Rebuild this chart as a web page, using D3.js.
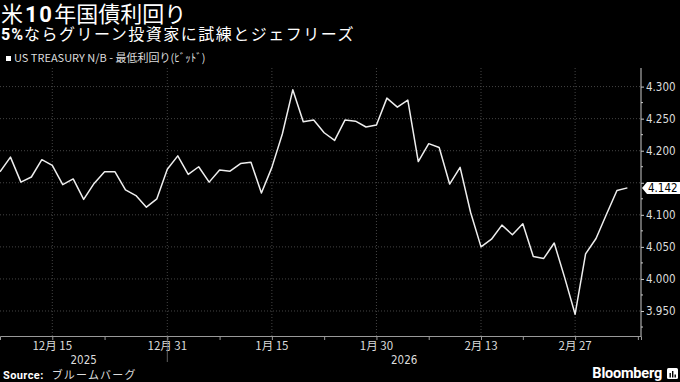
<!DOCTYPE html>
<html>
<head>
<meta charset="utf-8">
<script src="https://cdn.jsdelivr.net/npm/d3@7"></script>
<style>
  html, body { margin: 0; padding: 0; background: #000; }
  svg { display: block; }
  .jp { font-family: "Noto Sans CJK JP", "Noto Sans", sans-serif; }
  .num { font-family: "DejaVu Sans Condensed", "Roboto", sans-serif; }
</style>
</head>
<body>
<svg id="chart" width="680" height="382"></svg>
<script>
// trading days, Dec 8 2025 .. Mar 6 2026 (US bond market holidays skipped)
var dates = [
  '2025-12-08','2025-12-09','2025-12-10','2025-12-11','2025-12-12',
  '2025-12-15','2025-12-16','2025-12-17','2025-12-18','2025-12-19',
  '2025-12-22','2025-12-23','2025-12-24','2025-12-26','2025-12-29',
  '2025-12-30','2025-12-31','2026-01-02','2026-01-05','2026-01-06',
  '2026-01-07','2026-01-08','2026-01-09','2026-01-12','2026-01-13',
  '2026-01-14','2026-01-15','2026-01-16','2026-01-20','2026-01-21',
  '2026-01-22','2026-01-23','2026-01-26','2026-01-27','2026-01-28',
  '2026-01-29','2026-01-30','2026-02-02','2026-02-03','2026-02-04',
  '2026-02-05','2026-02-06','2026-02-09','2026-02-10','2026-02-11',
  '2026-02-12','2026-02-13','2026-02-17','2026-02-18','2026-02-19',
  '2026-02-20','2026-02-23','2026-02-24','2026-02-25','2026-02-26',
  '2026-02-27','2026-03-02','2026-03-03','2026-03-04','2026-03-05',
  '2026-03-06'
];

var yields = [
  4.167, 4.190, 4.151, 4.159, 4.186,
  4.177, 4.147, 4.156, 4.124, 4.149,
  4.167, 4.167, 4.139, 4.130, 4.112,
  4.125, 4.171, 4.192, 4.163, 4.175,
  4.151, 4.170, 4.168, 4.180, 4.182,
  4.134, 4.174, 4.226, 4.295, 4.245,
  4.248, 4.228, 4.216, 4.248, 4.246,
  4.237, 4.240, 4.282, 4.268, 4.279,
  4.183, 4.211, 4.205, 4.148, 4.174,
  4.104, 4.050, 4.062, 4.084, 4.069,
  4.086, 4.035, 4.032, 4.056, 4.002,
  3.945, 4.039, 4.063, 4.101, 4.138,
  4.142
];

var labelTickDates = ['2025-12-15','2025-12-31','2026-01-15','2026-01-30','2026-02-13','2026-02-27'];
var minorTickDates = ['2025-12-22','2026-01-08','2026-01-23','2026-02-06','2026-02-20'];
var yTicks = [3.95, 4.00, 4.05, 4.10, 4.15, 4.20, 4.25, 4.30];
var years = ['2025', '2026'];

var titleText = '米10年国債利回り';
var subtitleBold = '5%';
var subtitleText = 'ならグリーン投資家に試練とジェフリーズ';
var legendText = 'US TREASURY N/B - 最低利回り(ﾋﾞｯﾄﾞ)';

var svg = d3.select('#chart');
var plotLeft = 0, plotRight = 641, plotTop = 68, plotBottom = 336;

// index based scale, one step per trading day
var x = d3.scaleLinear().domain([0, 61.3]).range([plotLeft, plotRight]);
var y = d3.scaleLinear().domain([3.911, 4.329]).range([plotBottom, plotTop]);

var idx = function(d) { return dates.indexOf(d); };

// title block
var t = svg.append('text').attr('class', 'jp').attr('x', 1).attr('y', 22)
  .attr('fill', '#fff').style('font-size', '22px');
t.append('tspan').text(titleText.slice(0, 1));
t.append('tspan').attr('dx', 2).style('font-weight', 'bold').style('font-family', 'Roboto, sans-serif')
  .style('letter-spacing', '1.5px').text(titleText.slice(1, 3));
t.append('tspan').attr('dx', 1).text(titleText.slice(3));

var st = svg.append('text').attr('class', 'jp').attr('x', 1).attr('y', 40)
  .attr('fill', '#fff').style('font-size', '16px');
st.append('tspan').style('font-weight', 'bold').style('font-family', 'Roboto, sans-serif')
  .style('letter-spacing', '1px').text(subtitleBold);
st.append('tspan').style('letter-spacing', '1.5px').text(subtitleText);

svg.append('rect').attr('x', 6).attr('y', 56).attr('width', 5).attr('height', 5).attr('fill', '#fff');
svg.append('text').attr('class', 'jp').attr('x', 14).attr('y', 62)
  .attr('fill', '#ddd').style('font-size', '11px').text(legendText);

// gridlines
var g = svg.append('g');
g.selectAll('.hgrid').data(yTicks).enter().append('line')
  .attr('x1', plotLeft).attr('x2', plotRight)
  .attr('y1', d => y(d)).attr('y2', d => y(d))
  .attr('stroke', '#555').attr('stroke-width', 0.8).attr('stroke-dasharray', '1,2');

g.selectAll('.vgrid').data(labelTickDates).enter().append('line')
  .attr('x1', d => x(idx(d))).attr('x2', d => x(idx(d)))
  .attr('y1', plotTop).attr('y2', plotBottom)
  .attr('stroke', '#555').attr('stroke-width', 0.8).attr('stroke-dasharray', '1,2');

// bottom axis
var xAxis = d3.axisBottom(x)
  .tickValues(labelTickDates.map(idx).concat(minorTickDates.map(idx), [61]))
  .tickSize(4)
  .tickFormat('');
var xa = svg.append('g').attr('transform', `translate(0,${plotBottom})`).call(xAxis);
xa.select('.domain').attr('stroke', '#999');
xa.selectAll('.tick line').attr('stroke', '#999');

svg.append('g').selectAll('text').data(labelTickDates).enter().append('text')
  .attr('class', 'jp')
  .attr('x', d => x(idx(d)))
  .attr('y', 350)
  .attr('text-anchor', 'middle')
  .attr('fill', '#ddd')
  .style('font-size', '11.5px')
  .text(d => {
    let p = d.split('-');
    return (+p[1]) + '月 ' + (+p[2]);
  });

// year row with separator at year boundary
var yearX = x(idx('2025-12-31'));
svg.append('line').attr('x1', yearX).attr('x2', yearX)
  .attr('y1', plotBottom).attr('y2', 362).attr('stroke', '#777').attr('stroke-width', 0.8);
svg.selectAll('.yr').data(years).enter().append('text')
  .attr('class', 'num')
  .attr('x', (d, i) => i == 0 ? (plotLeft + yearX) / 2 : (yearX + plotRight) / 2)
  .attr('y', 363.5)
  .attr('text-anchor', 'middle')
  .attr('fill', '#ddd')
  .style('font-size', '11.5px')
  .text(d => d);

// right axis
var yAxis = d3.axisRight(y).tickValues(yTicks).tickSize(3).tickFormat(d3.format('.3f'));
var ya = svg.append('g').attr('transform', `translate(${plotRight},0)`).call(yAxis);
ya.select('.domain').attr('stroke', '#ccc').attr('d', `M0,${plotTop}V${plotBottom}`);
ya.selectAll('.tick line').attr('stroke', '#ccc');
ya.selectAll('.tick text').attr('class', 'num').attr('fill', '#ddd')
  .style('font-size', '11.5px').attr('x', 5);
ya.selectAll('.tick').filter(d => d == 4.15).select('text').remove();

ya.append('g').selectAll('line').data(yTicks.map(d => d - 0.025)).enter().append('line')
  .attr('x1', 0).attr('x2', 2).attr('y1', d => y(d)).attr('y2', d => y(d)).attr('stroke', '#ccc');

// the series
var line = d3.line().x((d, i) => x(i)).y(d => y(d));
svg.append('path').datum(yields)
  .attr('d', line)
  .attr('fill', 'none')
  .attr('stroke', '#eee')
  .attr('stroke-width', 1.5)
  .attr('stroke-linejoin', 'round');

// last value tag
var last = yields[yields.length - 1];
var ly = y(last);
svg.append('path')
  .attr('d', `M${plotRight + 1},${ly} L${plotRight + 6},${ly - 6} H680 V${ly + 6} H${plotRight + 6} Z`)
  .attr('fill', '#fff');
svg.append('text').attr('class', 'num').attr('x', plotRight + 7).attr('y', ly + 4)
  .attr('fill', '#000').style('font-size', '11.5px').text(d3.format('.3f')(last));

// footer
var src = svg.append('text').attr('x', 3).attr('y', 379).attr('fill', '#fff').style('font-size', '11px');
src.append('tspan').style('font-weight', 'bold').style('font-family', 'Roboto, sans-serif')
  .style('letter-spacing', '0.4px').text('Source:');
src.append('tspan').attr('class', 'jp').attr('dx', 8).attr('fill', '#ddd')
  .style('letter-spacing', '1.2px').text('ブルームバーグ');

svg.append('text').attr('x', 662).attr('y', 377.5).attr('text-anchor', 'end')
  .attr('fill', '#fff').style('font-family', 'Roboto, sans-serif').style('font-weight', 'bold')
  .style('font-size', '14.5px').style('letter-spacing', '-0.2px').text('Bloomberg');
var logo = svg.append('g').attr('transform', 'translate(667,368)');
logo.append('rect').attr('width', 11).attr('height', 11).attr('rx', 1.5).attr('fill', '#fff');
logo.selectAll('.bar').data([[2.5, 5], [5, 3], [7.5, 6.5]]).enter().append('rect')
  .attr('x', d => d[0]).attr('y', d => d[1]).attr('width', 1.4).attr('height', d => 9.5 - d[1])
  .attr('fill', '#000');
</script>
</body>
</html>
